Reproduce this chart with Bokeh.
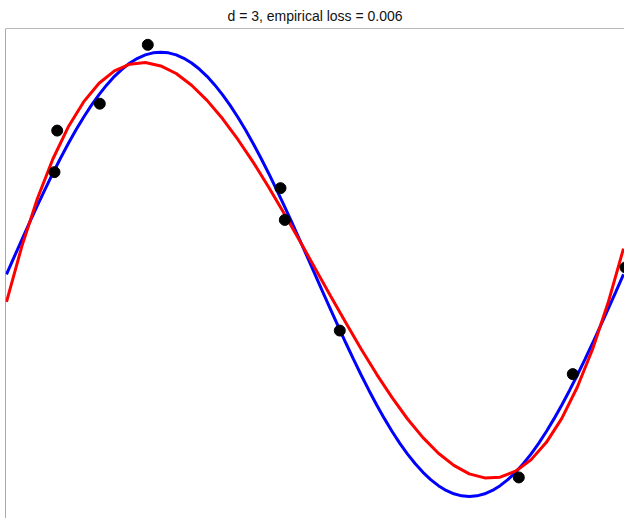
from bokeh.plotting import figure
from bokeh.models import Range1d, Span
from bokeh.embed import file_html
from bokeh.resources import INLINE

# sample points
pt_x = [0.0822, 0.0778, 0.1512, 0.2290, 0.4441, 0.4511, 0.5402, 0.8303, 0.9178, 1.0032]
pt_y = [0.647, 0.460, 0.768, 1.033, 0.388, 0.245, -0.253, -0.914, -0.449, 0.031]

# blue curve (true function)
blue_x = [i * 0.0125 for i in range(81)]
blue_y = [0.0, 0.0785, 0.1564, 0.2334, 0.3090, 0.3827, 0.4540, 0.5225, 0.5878, 0.6494,
          0.7071, 0.7604, 0.8090, 0.8526, 0.8910, 0.9239, 0.9511, 0.9724, 0.9877, 0.9969,
          1.0, 0.9969, 0.9877, 0.9724, 0.9511, 0.9239, 0.8910, 0.8526, 0.8090, 0.7604,
          0.7071, 0.6494, 0.5878, 0.5225, 0.4540, 0.3827, 0.3090, 0.2334, 0.1564, 0.0785,
          0.0, -0.0785, -0.1564, -0.2334, -0.3090, -0.3827, -0.4540, -0.5225, -0.5878, -0.6494,
          -0.7071, -0.7604, -0.8090, -0.8526, -0.8910, -0.9239, -0.9511, -0.9724, -0.9877, -0.9969,
          -1.0, -0.9969, -0.9877, -0.9724, -0.9511, -0.9239, -0.8910, -0.8526, -0.8090, -0.7604,
          -0.7071, -0.6494, -0.5878, -0.5225, -0.4540, -0.3827, -0.3090, -0.2334, -0.1564, -0.0785,
          0.0]

# red curve (degree-3 fit)
red_x = [i * 0.025 for i in range(41)]
red_y = [-0.124, 0.127, 0.340, 0.518, 0.663, 0.776, 0.860, 0.916, 0.946, 0.953,
         0.938, 0.904, 0.851, 0.783, 0.701, 0.607, 0.504, 0.392, 0.274, 0.152,
         0.028, -0.096, -0.218, -0.337, -0.450, -0.555, -0.651, -0.735, -0.805, -0.860,
         -0.898, -0.916, -0.913, -0.886, -0.835, -0.756, -0.648, -0.508, -0.336, -0.128,
         0.116]

title_text = "d = 3, empirical loss = 0.006"

p = figure(width=624, height=518, output_backend="svg", toolbar_location=None,
           x_range=Range1d(-0.0016, 1.0016), y_range=Range1d(-1.0988, 1.1064),
           x_axis_location=None, y_axis_location=None,
           min_border_left=5, min_border_right=0, min_border_bottom=0, min_border_top=28)
p.grid.visible = False
p.outline_line_color = None
p.background_fill_color = "white"
p.border_fill_color = "white"

p.title.text = title_text
p.title.align = "center"
p.title.text_font = "Liberation Sans"
p.title.text_font_size = "14px"
p.title.text_font_style = "normal"
p.title.text_color = "#111111"
p.title.standoff = 9

p.add_layout(Span(location=p.y_range.end, dimension="width", line_color="#707070", line_width=1))
p.add_layout(Span(location=p.x_range.start, dimension="height", line_color="#555555", line_width=1))

p.line(blue_x, blue_y, line_color="#0000ff", line_width=3)
p.line(red_x, red_y, line_color="#ff0000", line_width=3)
p.scatter(pt_x, pt_y, size=11, fill_color="black", line_color="black")

open("out.html", "w").write(file_html(p, INLINE))
